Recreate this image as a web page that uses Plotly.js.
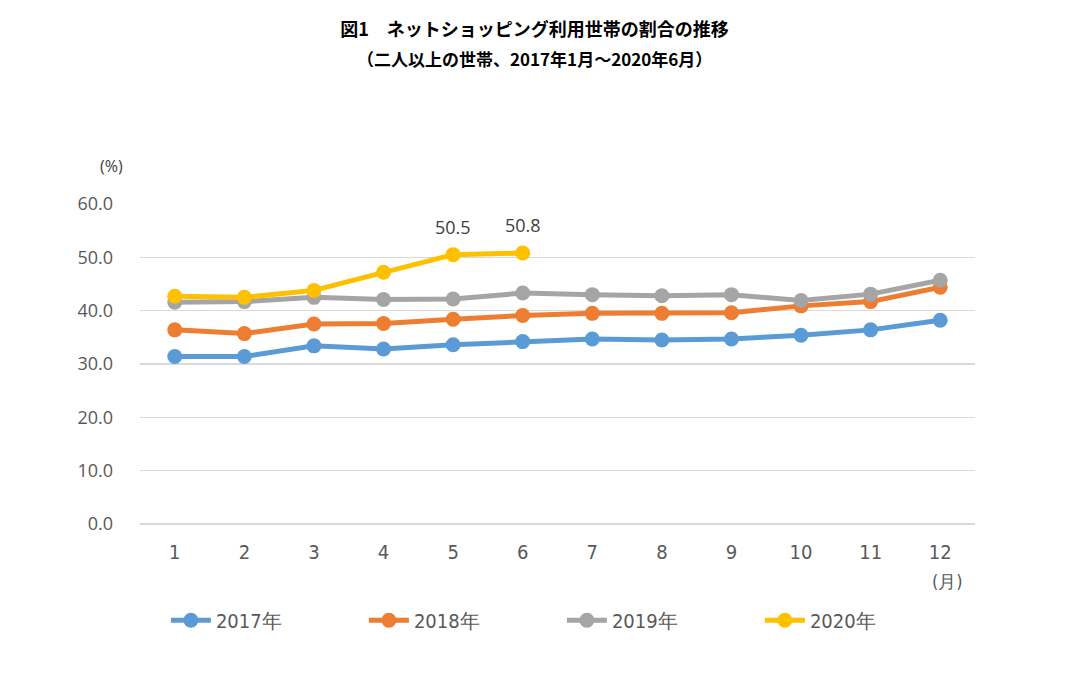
<!DOCTYPE html>
<html><head><meta charset="utf-8">
<script src="https://cdn.plot.ly/plotly-3.0.1.min.js"></script>
<style>html,body{margin:0;padding:0;background:#fff;}#chart{width:1069px;height:693px;}</style>
</head><body><div id="chart"></div>
<script>
const months = ["1","2","3","4","5","6","7","8","9","10","11","12"];
const seriesNames = ["2017年","2018年","2019年","2020年"];
const v2017 = [31.4, 31.4, 33.4, 32.8, 33.6, 34.2, 34.7, 34.5, 34.7, 35.4, 36.4, 38.2];
const v2018 = [36.4, 35.7, 37.5, 37.6, 38.4, 39.1, 39.5, 39.5, 39.6, 40.9, 41.7, 44.4];
const v2019 = [41.6, 41.7, 42.5, 42.1, 42.2, 43.3, 43.0, 42.8, 43.0, 41.9, 43.1, 45.7];
const v2020 = [42.7, 42.5, 43.8, 47.2, 50.5, 50.8];
const colors = ["#5B9BD5","#ED7D31","#A5A5A5","#FFC000"];
const labelMonths = ["5","6"];
const labelValues = [50.5, 50.8];
const titleLine1 = "図1　ネットショッピング利用世帯の割合の推移";
const titleLine2 = "（二人以上の世帯、2017年1月～2020年6月）";

const condensed = "DejaVu Sans Condensed, Liberation Sans Narrow, sans-serif";
const allVals = [v2017, v2018, v2019, v2020];
const traces = allVals.map((vals, i) => ({
  type: "scatter", mode: "lines+markers",
  x: months.slice(0, vals.length), y: vals, name: seriesNames[i],
  line: {color: colors[i], width: 5},
  marker: {color: colors[i], size: 15},
  hoverinfo: "x+y"
}));

const annFont = {family: "Open Sans, Noto Sans, sans-serif", size: 18, color: "#404040"};
const annotations = labelMonths.map((m, i) => ({
  x: months.indexOf(m), y: labelValues[i], xref: "x", yref: "y", text: labelValues[i].toFixed(1),
  showarrow: false, yanchor: "bottom", yshift: 14, font: annFont
}));
annotations.push({xref: "paper", yref: "paper", x: -0.034, y: 1.12, text: "(%)", showarrow: false,
  xanchor: "center", yanchor: "middle", font: {family: "Open Sans, sans-serif", size: 16, color: "#404040"}});
annotations.push({xref: "paper", yref: "paper", x: 0.967, y: -0.18, text: "(月)", showarrow: false,
  xanchor: "center", yanchor: "middle", font: {family: condensed, size: 18, color: "#595959"}});
annotations.push({xref: "paper", yref: "paper", x: (534 - 140) / 835, y: (524 - 58) / 320, text: "<b>" + titleLine2 + "</b>",
  showarrow: false, xanchor: "center", yanchor: "middle",
  font: {family: "Noto Sans CJK JP, sans-serif", size: 17, color: "#000"}});

const layout = {
  width: 1069, height: 693,
  paper_bgcolor: "#fff", plot_bgcolor: "#fff",
  margin: {l: 140, r: 94, t: 204, b: 169},
  title: {
    text: "<b>" + titleLine1 + "</b>",
    xref: "container", yref: "container",
    x: 0.5, xanchor: "center", y: 1 - 30/693, yanchor: "middle",
    font: {family: "Noto Sans CJK JP, sans-serif", size: 18, color: "#000"}
  },
  xaxis: {
    type: "category", range: [-0.5, 11.5], showgrid: false, zeroline: false,
    showline: false, ticks: "", ticklabelstandoff: 14,
    tickfont: {family: condensed, size: 20, color: "#595959"}
  },
  yaxis: {
    range: [0, 60], dtick: 10, tickformat: ".1f",
    showgrid: true, gridcolor: "#D9D9D9", gridwidth: 1.5,
    zeroline: true, zerolinecolor: "#D9D9D9", zerolinewidth: 1.5,
    showline: false, ticks: "", ticklabelstandoff: 26,
    tickfont: {family: "Open Sans, sans-serif", size: 18, color: "#595959"}
  },
  showlegend: true,
  legend: {
    orientation: "h", x: 0.031, xanchor: "left", y: -0.24, yanchor: "top",
    entrywidth: 143, entrywidthmode: "pixels", itemwidth: 40,
    font: {family: condensed, size: 20, color: "#595959"}
  },
  annotations: annotations
};
Plotly.newPlot("chart", traces, layout, {displayModeBar: false, staticPlot: true});
</script></body></html>
